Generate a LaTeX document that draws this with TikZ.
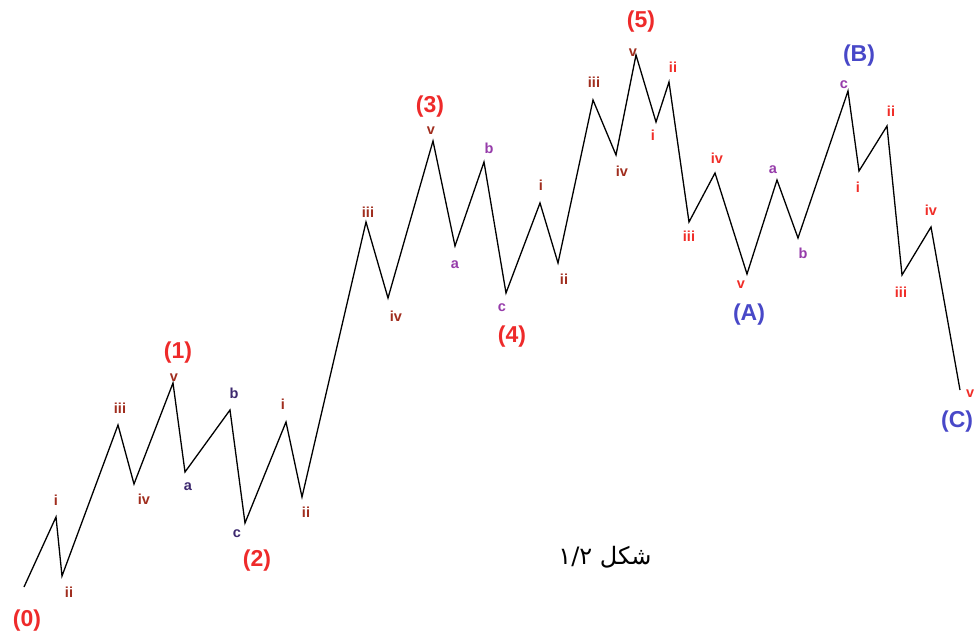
\documentclass[tikz,border=0pt]{standalone}
\usepackage{fontspec}
\setmainfont{Liberation Sans}
\newfontfamily\arabicfont[Script=Arabic]{DejaVu Sans}
\TeXXeTstate=1
\usepackage{tikz}
\usetikzlibrary{positioning}
\definecolor{waveRed}{RGB}{238,42,42}
\definecolor{waveBlue}{RGB}{72,72,200}
\definecolor{subBrown}{RGB}{160,45,30}
\definecolor{subNavy}{RGB}{60,40,110}
\definecolor{subPurple}{RGB}{150,60,170}
\definecolor{subRed}{RGB}{240,45,40}
\tikzset{
    % wave degrees
    bigLabel/.style={font=\fontsize{23}{24}\selectfont\bfseries, inner sep=0pt},
    impulse/.style={bigLabel, text=waveRed},
    corrective/.style={bigLabel, text=waveBlue},
    minorBase/.style={font=\fontsize{14.5}{15}\selectfont\bfseries, inner sep=0pt},
    minorImp/.style={minorBase, text=subBrown},
    minorAbc/.style={minorBase, text=subNavy},
    minorAbcB/.style={minorBase, text=subPurple},
    minorDown/.style={minorBase, text=subRed},
    % price path
    pricePath/.style={draw=black, line width=1.3pt, line join=miter}
}

\begin{document}
\begin{tikzpicture}[x=1pt, y=-1pt]
    \useasboundingbox (0,0) rectangle (975,634);

    % turning points
    \coordinate (p0) at (24,587);
    \coordinate (p1i) at (56,517);
    \coordinate (p1ii) at (62,576);
    \coordinate (p1iii) at (118,425);
    \coordinate (p1iv) at (134,484);
    \coordinate (p1) at (173,383);
    \coordinate (p2a) at (185,472);
    \coordinate (p2b) at (230,410);
    \coordinate (p2) at (245,523);
    \coordinate (p3i) at (286,422);
    \coordinate (p3ii) at (302,497);
    \coordinate (p3iii) at (366,222);
    \coordinate (p3iv) at (388,298);
    \coordinate (p3) at (433,141);
    \coordinate (p4a) at (455,246);
    \coordinate (p4b) at (484,162);
    \coordinate (p4) at (506,293);
    \coordinate (p5i) at (540,203);
    \coordinate (p5ii) at (558,263);
    \coordinate (p5iii) at (593,100);
    \coordinate (p5iv) at (616,155);
    \coordinate (p5) at (636,55);
    \coordinate (pAi) at (656,122);
    \coordinate (pAii) at (669,82);
    \coordinate (pAiii) at (689,222);
    \coordinate (pAiv) at (715,173);
    \coordinate (pA) at (747,274);
    \coordinate (pBa) at (777,180);
    \coordinate (pBb) at (798,238);
    \coordinate (pB) at (848,91);
    \coordinate (pCi) at (859,171);
    \coordinate (pCii) at (887,126);
    \coordinate (pCiii) at (902,275);
    \coordinate (pCiv) at (931,227);
    \coordinate (pC) at (960,390);

    \draw[pricePath] (p0) -- (p1i) -- (p1ii) -- (p1iii) -- (p1iv) -- (p1)
        -- (p2a) -- (p2b) -- (p2) -- (p3i) -- (p3ii) -- (p3iii) -- (p3iv) -- (p3)
        -- (p4a) -- (p4b) -- (p4) -- (p5i) -- (p5ii) -- (p5iii) -- (p5iv) -- (p5)
        -- (pAi) -- (pAii) -- (pAiii) -- (pAiv) -- (pA) -- (pBa) -- (pBb) -- (pB)
        -- (pCi) -- (pCii) -- (pCiii) -- (pCiv) -- (pC);

    % main waves
    \node[impulse] (l0) at (27,621) {(0)};
    \node[impulse] (l1) at (178,353) {(1)};
    \node[impulse] (l2) at (257,561) {(2)};
    \node[impulse] (l3) at (430,107) {(3)};
    \node[impulse] (l4) at (512,337) {(4)};
    \node[impulse] (l5) at (641,22) {(5)};
    \node[corrective] (lA) at (749,315) {(A)};
    \node[corrective] (lB) at (859,56) {(B)};
    \node[corrective, anchor=west] (lC) at (941,422) {(C)};

    % sub waves
    \node[minorImp] (l1i) at (56,500) {i};
    \node[minorImp] (l1ii) at (69,592) {ii};
    \node[minorImp] (l1iii) at (120,408) {iii};
    \node[minorImp] (l1iv) at (144,499) {iv};
    \node[minorImp] (l1v) at (174,378) {v};
    \node[minorAbc] (l2a) at (188,487) {a};
    \node[minorAbc] (l2b) at (234,393) {b};
    \node[minorAbc] (l2c) at (237,534) {c};
    \node[minorImp] (l3i) at (283,404) {i};
    \node[minorImp] (l3ii) at (306,512) {ii};
    \node[minorImp] (l3iii) at (368,212) {iii};
    \node[minorImp] (l3iv) at (396,316) {iv};
    \node[minorImp] (l3v) at (431,131) {v};
    \node[minorAbcB] (l4a) at (455,265) {a};
    \node[minorAbcB] (l4b) at (489,148) {b};
    \node[minorAbcB] (l4c) at (502,308) {c};
    \node[minorImp] (l5i) at (541,185) {i};
    \node[minorImp] (l5ii) at (564,279) {ii};
    \node[minorImp] (l5iii) at (594,82) {iii};
    \node[minorImp] (l5iv) at (622,171) {iv};
    \node[minorImp] (l5v) at (633,53) {v};
    \node[minorDown] (lAi) at (653,135) {i};
    \node[minorDown] (lAii) at (673,67) {ii};
    \node[minorDown] (lAiii) at (689,236) {iii};
    \node[minorDown] (lAiv) at (717,158) {iv};
    \node[minorDown] (lAv) at (741,285) {v};
    \node[minorAbcB] (lBa) at (773,170) {a};
    \node[minorAbcB] (lBb) at (803,253) {b};
    \node[minorAbcB] (lBc) at (844,85) {c};
    \node[minorDown] (lCi) at (858,187) {i};
    \node[minorDown] (lCii) at (891,111) {ii};
    \node[minorDown] (lCiii) at (901,292) {iii};
    \node[minorDown] (lCiv) at (931,210) {iv};
    \node[minorDown, anchor=east] (lCv) at (974.5,394) {v};

    % caption
    \node[font=\fontsize{24}{26}\selectfont, inner sep=0pt] (caption) at (605,557)
        {\arabicfont\beginR شکل \beginL ۱/۲\endL\endR};
\end{tikzpicture}
\end{document}
